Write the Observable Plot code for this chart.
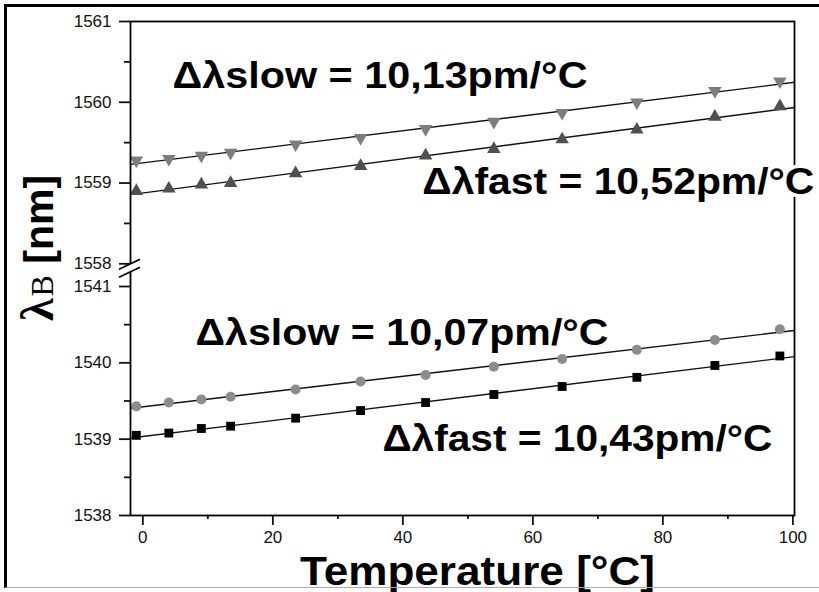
<!DOCTYPE html>
<html><head><meta charset="utf-8">
<script src="https://cdn.jsdelivr.net/npm/d3@7"></script>
<script src="https://cdn.jsdelivr.net/npm/@observablehq/plot@0.6"></script>
<style>
html,body{margin:0;padding:0;background:#fff;}
#wrap{position:relative;width:819px;height:592px;overflow:hidden;background:#fff;}
#border{position:absolute;left:4px;top:4px;width:840px;height:584px;border-top:3px solid #000;border-left:3px solid #000;border-bottom:1px solid #aaa;box-sizing:border-box;pointer-events:none;}
</style></head><body>
<div id="wrap"><div id="chart"></div><div id="border"></div></div>
<script>
// ---- data ----
const temperature = [-1, 4, 9, 13.5, 23.5, 33.5, 43.5, 54, 64.5, 76, 88, 98];
const upperSlow = [1559.28, 1559.30, 1559.34, 1559.375, 1559.48, 1559.56, 1559.67, 1559.76, 1559.87, 1560.00, 1560.14, 1560.26];
const upperFast = [1558.90, 1558.93, 1558.98, 1559.00, 1559.12, 1559.21, 1559.34, 1559.42, 1559.54, 1559.66, 1559.82, 1559.95];
const lowerSlow = [1539.43, 1539.48, 1539.52, 1539.555, 1539.65, 1539.755, 1539.84, 1539.95, 1540.05, 1540.17, 1540.30, 1540.44];
const lowerFast = [1539.05, 1539.08, 1539.14, 1539.17, 1539.275, 1539.375, 1539.48, 1539.585, 1539.69, 1539.81, 1539.965, 1540.09];
const xTicks = [0, 20, 40, 60, 80, 100];
const xMinorTicks = [10, 30, 50, 70, 90];
const yTicks = [1538, 1539, 1540, 1541, 1558, 1559, 1560, 1561];
const yMinorTicks = [1538.5, 1539.5, 1540.5, 1558.5, 1559.5, 1560.5];
const annotationText = ["Δλslow = 10,13pm/°C", "Δλfast = 10,52pm/°C", "Δλslow = 10,07pm/°C", "Δλfast = 10,43pm/°C"];
const annotationX = [4.56, 43.0, 8.1, 36.85];
const annotationY = [1560.18, 1558.87, 1540.23, 1538.85];
const xTitle = "Temperature [°C]";

// ---- layout / style configuration ----
const xDomain = [-1.9, 100.25];
const yDomain = [1538, 1541, 1558, 1561];
const yRange = [515, 286, 263.3, 21];
const annotationLen = [415, 392, 413, 390];
const xTitleLen = 355;

const triangleDown = {
  draw(context, size) {
    const y = -Math.sqrt(size / (Math.sqrt(3) * 3));
    context.moveTo(0, -y * 2);
    context.lineTo(-Math.sqrt(3) * y, y);
    context.lineTo(Math.sqrt(3) * y, y);
    context.closePath();
  }
};

function rows(ys) { return temperature.map((t, i) => ({t, v: ys[i]})); }
function fitLine(ys) {
  const mx = d3.mean(temperature), my = d3.mean(ys);
  const b = d3.sum(temperature, (x, i) => (x - mx) * (ys[i] - my)) / d3.sum(temperature, x => (x - mx) ** 2);
  const a = my - b * mx;
  return xDomain.map(t => ({t, v: a + b * t}));
}
const annotations = annotationText.map((text, i) => ({text, x: annotationX[i], y: annotationY[i]}));

const series = [
  {ys: upperSlow, symbol: triangleDown, fill: "#7d7d7d", r: 5},
  {ys: upperFast, symbol: "triangle", fill: "#505050", r: 5},
  {ys: lowerSlow, symbol: "circle", fill: "#8c8c8c", r: 5},
  {ys: lowerFast, symbol: "square", fill: "#000000", r: 5}
];

const tickFont = 17;
const plot = Plot.plot({
  width: 819,
  height: 592,
  marginLeft: 130,
  marginRight: 25,
  marginTop: 21,
  marginBottom: 77,
  style: {fontFamily: "'Liberation Sans', Arial, sans-serif", background: "transparent", overflow: "visible"},
  x: {domain: xDomain},
  y: {type: "linear", domain: yDomain, range: yRange},
  marks: [
    Plot.axisX({ticks: xTicks, tickSize: 10, tickPadding: 5, fontSize: tickFont, color: "#111", strokeWidth: 1.8, label: null}),
    Plot.axisX({ticks: xMinorTicks, tickSize: 4, tickFormat: () => "", color: "#111", strokeWidth: 1.8, label: null}),
    Plot.axisY({ticks: yTicks, tickSize: 11, tickPadding: 8, fontSize: tickFont, color: "#111", strokeWidth: 1.8, label: null, tickFormat: d => String(d)}),
    Plot.axisY({ticks: yMinorTicks, tickSize: 6, tickFormat: () => "", color: "#111", strokeWidth: 1.8, label: null}),
    ...series.map(s => Plot.line(fitLine(s.ys), {x: "t", y: "v", stroke: "#111", strokeWidth: 1.4})),
    ...series.map(s => Plot.dot(rows(s.ys), {x: "t", y: "v", symbol: s.symbol, fill: s.fill, r: s.r, stroke: "none"})),
    Plot.frame({stroke: "#000", strokeWidth: 1.8}),
    Plot.text(annotations, {x: "x", y: "y", text: "text", textAnchor: "start", lineAnchor: "bottom",
      fontSize: 37, fontWeight: "bold", fill: "#000", stroke: "white", strokeWidth: 7}),
    Plot.text([xTitle], {frameAnchor: "bottom", text: d => d, dx: 15, dy: 69, lineAnchor: "bottom",
      fontSize: 41, fontWeight: "bold", fill: "#000"})
  ]
});

document.getElementById("chart").appendChild(plot);
const svg = d3.select(plot);

// stretch the annotation texts and the x title to their measured widths
svg.selectAll("text").each(function() {
  const t = this.textContent;
  const i = annotationText.indexOf(t);
  if (i >= 0) d3.select(this).attr("textLength", annotationLen[i]).attr("lengthAdjust", "spacingAndGlyphs");
  if (t === xTitle) d3.select(this).attr("textLength", xTitleLen).attr("lengthAdjust", "spacingAndGlyphs");
});

// axis break marks on the left axis, placed with the library's scales
const sx = plot.scale("x"), sy = plot.scale("y");
const bx = sx.apply(xDomain[0]);
const by1 = sy.apply(1558) + 1, by2 = sy.apply(1558) + 9;
const brk = svg.append("g");
brk.append("path")
  .attr("d", `M${bx - 9},${by1 + 4}L${bx + 9},${by1 - 4}L${bx + 9},${by2 - 4}L${bx - 9},${by2 + 4}Z`)
  .attr("fill", "white");
[by1, by2].forEach(by => brk.append("line")
  .attr("x1", bx - 11).attr("y1", by + 5).attr("x2", bx + 10).attr("y2", by - 5)
  .attr("stroke", "#000").attr("stroke-width", 1.8));

// y-axis title λB [nm]
const yt = svg.append("text")
  .attr("transform", `translate(53,321) rotate(-90)`)
  .attr("text-anchor", "start")
  .attr("fill", "#000").attr("font-weight", "bold");
yt.append("tspan").text("λ").attr("font-family", "'Liberation Serif', 'DejaVu Serif', serif").attr("font-size", 46);
yt.append("tspan").text("B").attr("font-family", "'Liberation Serif', 'DejaVu Serif', serif").attr("font-weight", "normal").attr("font-size", 32).attr("dx", 2);
yt.append("tspan").text(" [nm]").attr("font-family", "'Liberation Sans', Arial, sans-serif").attr("font-size", 41);
</script>
</body></html>
